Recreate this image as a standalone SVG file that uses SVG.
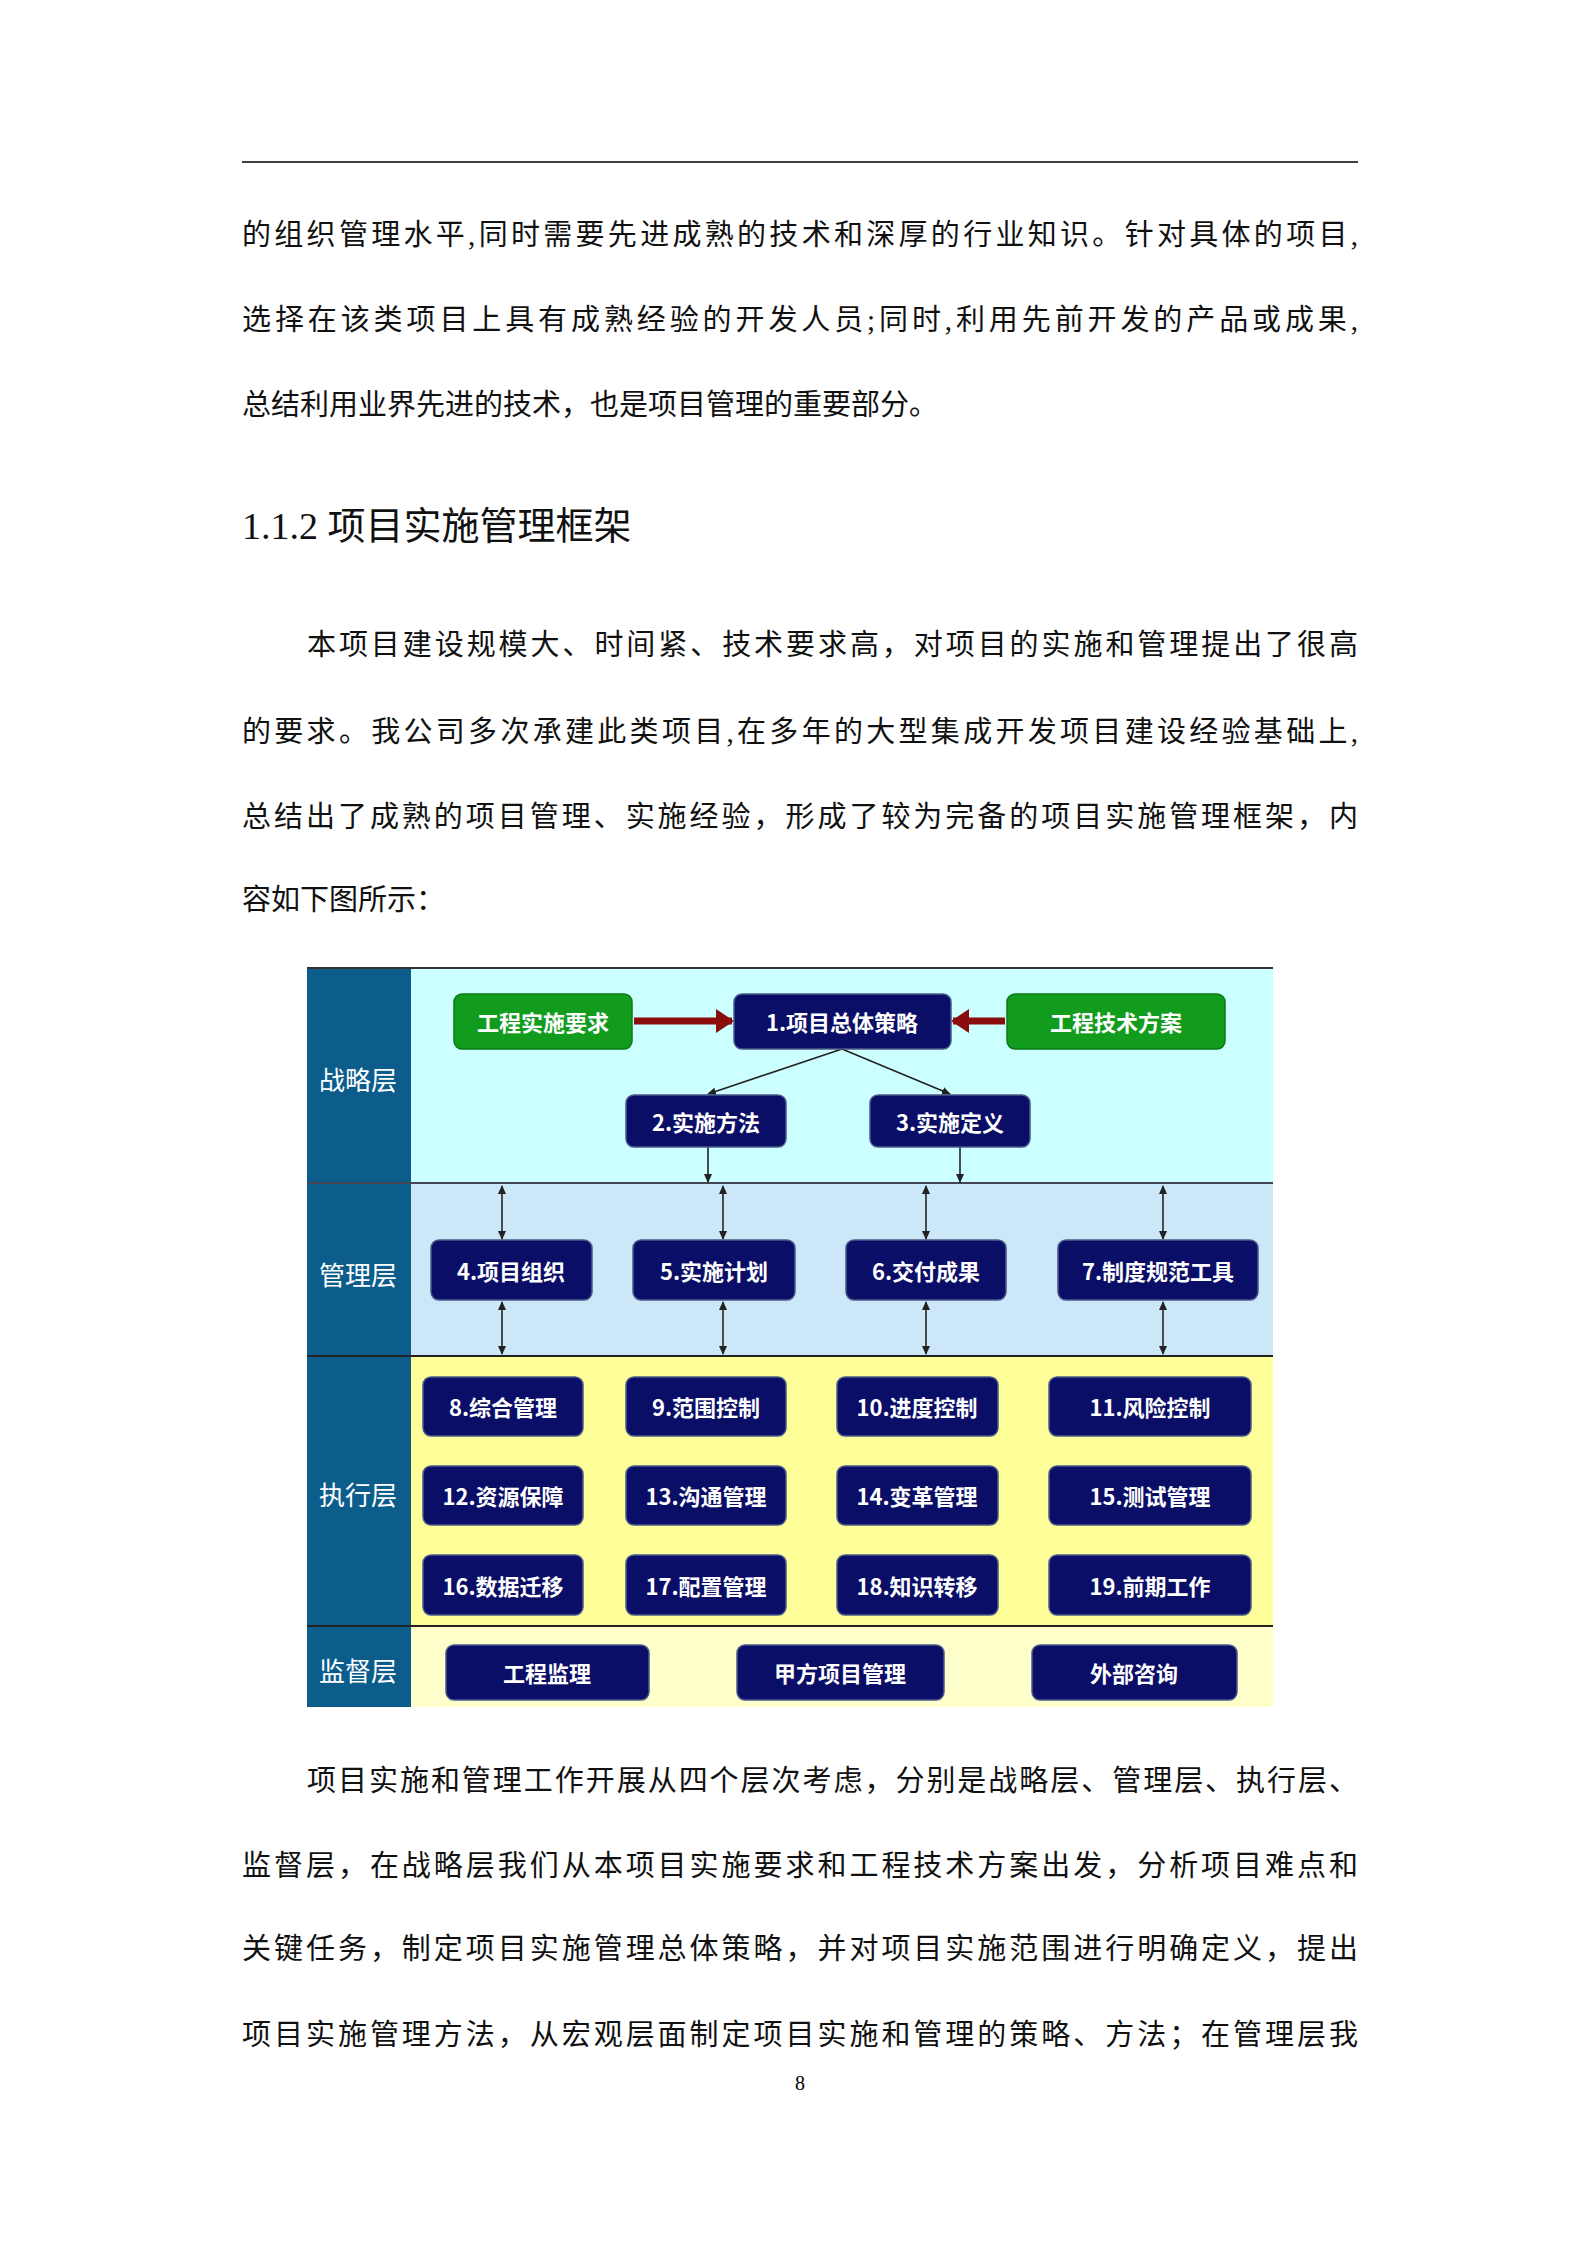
<svg xmlns="http://www.w3.org/2000/svg" width="1587" height="2245" viewBox="0 0 1587 2245">
<style>
.p{font-family:"Liberation Serif","Noto Sans CJK SC",serif;font-size:29px;fill:#111}
.n rect{fill:#0b0e66;stroke:#4a5a8a;stroke-width:1.5}
.g rect{fill:#119c1e;stroke:#0a7a14;stroke-width:1.5}
.n text,.g text{font-family:"Noto Sans CJK SC",sans-serif;font-weight:bold;font-size:22px;fill:#fff;text-anchor:middle;dominant-baseline:central}
.lab{font-family:"Noto Sans CJK SC",sans-serif;font-size:26px;fill:#fff;text-anchor:middle;dominant-baseline:central}
.c line{stroke:#222;stroke-width:1.6}
</style>
<defs>
<marker id="a" markerWidth="10" markerHeight="10" refX="8" refY="5" orient="auto-start-reverse" markerUnits="userSpaceOnUse"><path d="M0,1 L9,5 L0,9 z" fill="#222"/></marker>
<marker id="r" markerWidth="20" markerHeight="24" refX="16" refY="12" orient="auto" markerUnits="userSpaceOnUse"><path d="M0,0 L18,12 L0,24 z" fill="#8b0c0c"/></marker>
</defs>
<rect width="1587" height="2245" fill="#fff"/>
<line x1="242" y1="162" x2="1358" y2="162" stroke="#000" stroke-width="1.5"/>
<text class="p" x="242" y="245" textLength="1116" lengthAdjust="spacing">的组织管理水平,同时需要先进成熟的技术和深厚的行业知识。针对具体的项目,</text>
<text class="p" x="242" y="330" textLength="1116" lengthAdjust="spacing">选择在该类项目上具有成熟经验的开发人员;同时,利用先前开发的产品或成果,</text>
<text class="p" x="242" y="415">总结利用业界先进的技术，也是项目管理的重要部分。</text>
<text x="242" y="539" style="font-family:'Liberation Serif','Noto Sans CJK SC',serif;font-size:38px;fill:#111">1.1.2 项目实施管理框架</text>
<text class="p" x="307" y="655" textLength="1051" lengthAdjust="spacing">本项目建设规模大、时间紧、技术要求高，对项目的实施和管理提出了很高</text>
<text class="p" x="242" y="742" textLength="1116" lengthAdjust="spacing">的要求。我公司多次承建此类项目,在多年的大型集成开发项目建设经验基础上,</text>
<text class="p" x="242" y="827" textLength="1116" lengthAdjust="spacing">总结出了成熟的项目管理、实施经验，形成了较为完备的项目实施管理框架，内</text>
<text class="p" x="242" y="910">容如下图所示：</text>
<text class="p" x="307" y="1791" textLength="1051" lengthAdjust="spacing">项目实施和管理工作开展从四个层次考虑，分别是战略层、管理层、执行层、</text>
<text class="p" x="242" y="1876" textLength="1116" lengthAdjust="spacing">监督层，在战略层我们从本项目实施要求和工程技术方案出发，分析项目难点和</text>
<text class="p" x="242" y="1959" textLength="1116" lengthAdjust="spacing">关键任务，制定项目实施管理总体策略，并对项目实施范围进行明确定义，提出</text>
<text class="p" x="242" y="2045" textLength="1116" lengthAdjust="spacing">项目实施管理方法，从宏观层面制定项目实施和管理的策略、方法；在管理层我</text>
<text x="800" y="2090" text-anchor="middle" style="font-family:'Liberation Serif',serif;font-size:20px">8</text>

<g id="bands">
<rect x="411" y="968" width="862" height="215" fill="#ccffff"/>
<rect x="411" y="1183" width="862" height="173" fill="#cce8f8"/>
<rect x="411" y="1356" width="862" height="270" fill="#ffff99"/>
<rect x="411" y="1626" width="862" height="81" fill="#ffffcc"/>
<rect x="307" y="968" width="104" height="739" fill="#0c5d8c"/>
<line x1="307" y1="968" x2="1273" y2="968" stroke="#333" stroke-width="2"/>
<line x1="307" y1="1183" x2="1273" y2="1183" stroke="#445" stroke-width="2"/>
<line x1="307" y1="1356" x2="1273" y2="1356" stroke="#222" stroke-width="2"/>
<line x1="307" y1="1626" x2="1273" y2="1626" stroke="#222" stroke-width="2"/>
<text class="lab" x="358" y="1078">战略层</text>
<text class="lab" x="358" y="1273">管理层</text>
<text class="lab" x="358" y="1493">执行层</text>
<text class="lab" x="358" y="1669">监督层</text>
</g>

<g class="c" id="connectors">
<line x1="634" y1="1021" x2="732" y2="1021" style="stroke:#8b0c0c;stroke-width:7" marker-end="url(#r)"/>
<line x1="1005" y1="1021" x2="953" y2="1021" style="stroke:#8b0c0c;stroke-width:7" marker-end="url(#r)"/>
<line x1="842" y1="1049" x2="708" y2="1094" marker-end="url(#a)"/>
<line x1="842" y1="1049" x2="950" y2="1094" marker-end="url(#a)"/>
<line x1="708" y1="1147" x2="708" y2="1182" marker-end="url(#a)"/>
<line x1="960" y1="1147" x2="960" y2="1182" marker-end="url(#a)"/>
<line x1="502" y1="1186" x2="502" y2="1239" marker-start="url(#a)" marker-end="url(#a)"/>
<line x1="723" y1="1186" x2="723" y2="1239" marker-start="url(#a)" marker-end="url(#a)"/>
<line x1="926" y1="1186" x2="926" y2="1239" marker-start="url(#a)" marker-end="url(#a)"/>
<line x1="1163" y1="1186" x2="1163" y2="1239" marker-start="url(#a)" marker-end="url(#a)"/>
<line x1="502" y1="1302" x2="502" y2="1354" marker-start="url(#a)" marker-end="url(#a)"/>
<line x1="723" y1="1302" x2="723" y2="1354" marker-start="url(#a)" marker-end="url(#a)"/>
<line x1="926" y1="1302" x2="926" y2="1354" marker-start="url(#a)" marker-end="url(#a)"/>
<line x1="1163" y1="1302" x2="1163" y2="1354" marker-start="url(#a)" marker-end="url(#a)"/>
</g>

<g id="req" class="g"><rect x="454" y="994" width="178" height="55" rx="8"/><text x="543" y="1021">工程实施要求</text></g>
<g id="n1" class="n"><rect x="734" y="994" width="217" height="55" rx="8"/><text x="842" y="1021">1.项目总体策略</text></g>
<g id="tech" class="g"><rect x="1007" y="994" width="218" height="55" rx="8"/><text x="1116" y="1021">工程技术方案</text></g>
<g id="n2" class="n"><rect x="626" y="1095" width="160" height="52" rx="8"/><text x="706" y="1121">2.实施方法</text></g>
<g id="n3" class="n"><rect x="870" y="1095" width="160" height="52" rx="8"/><text x="950" y="1121">3.实施定义</text></g>
<g id="n4" class="n"><rect x="431" y="1240" width="161" height="60" rx="8"/><text x="511" y="1270">4.项目组织</text></g>
<g id="n5" class="n"><rect x="633" y="1240" width="162" height="60" rx="8"/><text x="714" y="1270">5.实施计划</text></g>
<g id="n6" class="n"><rect x="846" y="1240" width="160" height="60" rx="8"/><text x="926" y="1270">6.交付成果</text></g>
<g id="n7" class="n"><rect x="1058" y="1240" width="200" height="60" rx="8"/><text x="1158" y="1270">7.制度规范工具</text></g>
<g id="n8" class="n"><rect x="423" y="1377" width="160" height="59" rx="8"/><text x="503" y="1406">8.综合管理</text></g>
<g id="n9" class="n"><rect x="626" y="1377" width="160" height="59" rx="8"/><text x="706" y="1406">9.范围控制</text></g>
<g id="n10" class="n"><rect x="837" y="1377" width="161" height="59" rx="8"/><text x="917" y="1406">10.进度控制</text></g>
<g id="n11" class="n"><rect x="1049" y="1377" width="202" height="59" rx="8"/><text x="1150" y="1406">11.风险控制</text></g>
<g id="n12" class="n"><rect x="423" y="1466" width="160" height="59" rx="8"/><text x="503" y="1495">12.资源保障</text></g>
<g id="n13" class="n"><rect x="626" y="1466" width="160" height="59" rx="8"/><text x="706" y="1495">13.沟通管理</text></g>
<g id="n14" class="n"><rect x="837" y="1466" width="161" height="59" rx="8"/><text x="917" y="1495">14.变革管理</text></g>
<g id="n15" class="n"><rect x="1049" y="1466" width="202" height="59" rx="8"/><text x="1150" y="1495">15.测试管理</text></g>
<g id="n16" class="n"><rect x="423" y="1555" width="160" height="60" rx="8"/><text x="503" y="1585">16.数据迁移</text></g>
<g id="n17" class="n"><rect x="626" y="1555" width="160" height="60" rx="8"/><text x="706" y="1585">17.配置管理</text></g>
<g id="n18" class="n"><rect x="837" y="1555" width="161" height="60" rx="8"/><text x="917" y="1585">18.知识转移</text></g>
<g id="n19" class="n"><rect x="1049" y="1555" width="202" height="60" rx="8"/><text x="1150" y="1585">19.前期工作</text></g>
<g id="s1" class="n"><rect x="446" y="1645" width="203" height="55" rx="8"/><text x="547" y="1672">工程监理</text></g>
<g id="s2" class="n"><rect x="737" y="1645" width="207" height="55" rx="8"/><text x="840" y="1672">甲方项目管理</text></g>
<g id="s3" class="n"><rect x="1032" y="1645" width="205" height="55" rx="8"/><text x="1134" y="1672">外部咨询</text></g>
</svg>
